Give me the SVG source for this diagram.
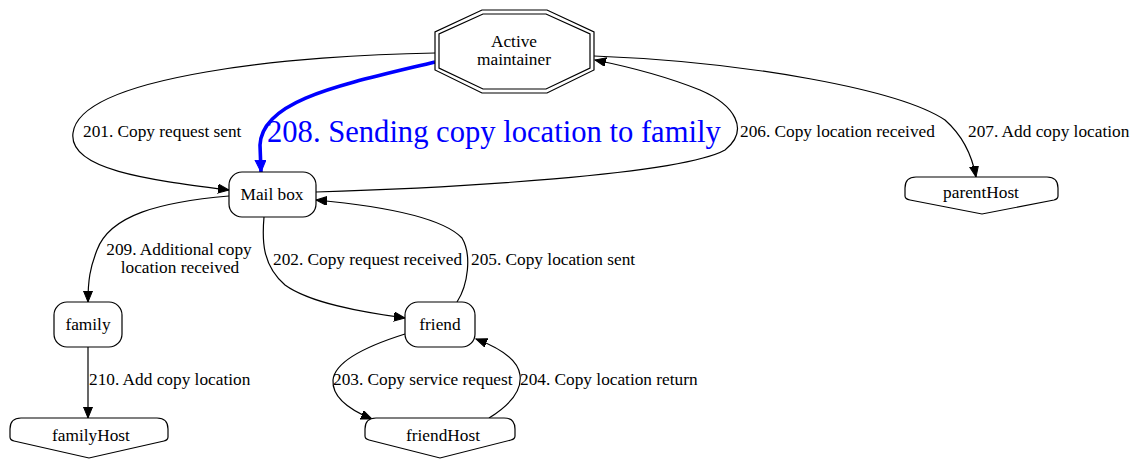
<svg xmlns="http://www.w3.org/2000/svg" width="1140" height="460" viewBox="0 0 1140 460">
<style>
.n{fill:#fff;stroke:#000;stroke-width:1.2}
.t{font-family:"Liberation Serif","Times New Roman",serif;font-size:17.3px;fill:#000}
.m{text-anchor:middle}
.e{fill:none;stroke:#000;stroke-width:1.2;marker-end:url(#ah)}
.b{fill:none;stroke:#00f;stroke-width:3.6;marker-end:url(#bh)}
</style>
<defs>
<marker id="ah" markerUnits="userSpaceOnUse" markerWidth="12" markerHeight="10" refX="11" refY="4.5" orient="auto"><path d="M0,0 L11,4.5 L0,9 Z" fill="#000" stroke="#000"/></marker>
<marker id="bh" markerUnits="userSpaceOnUse" markerWidth="14" markerHeight="12" refX="12" refY="5.5" orient="auto"><path d="M0,0 L12,5.5 L0,11 Z" fill="#00f" stroke="#00f"/></marker>
</defs>
<rect width="1140" height="460" fill="#fff"/>
<g id="connectors">
<path class="e" d="M435,53 C300,55 80,75 73,133 C68,170 150,180 229,190"/>
<text class="t" x="83" y="137">201. Copy request sent</text>
<path class="b" d="M435,62 C340,85 262,100 260,145 L261,172"/>
<text x="267" y="142" style="font-family:'Liberation Serif','Times New Roman',serif;font-size:30.6px;fill:#00f">208. Sending copy location to family</text>
<path class="e" d="M316,192 C450,188 680,175 725,150 C750,130 735,105 700,90 C670,78 630,67 595,60"/>
<text class="t" x="740" y="137">206. Copy location received</text>
<path class="e" d="M594,56 C750,62 900,90 945,120 C962,135 972,155 976,177"/>
<text class="t" x="968" y="137">207. Add copy location</text>
<path class="e" d="M229,196 C160,202 110,215 97,250 C90,268 88,280 88,302"/>
<text class="t m" x="179" y="255">209. Additional copy</text>
<text class="t m" x="180" y="273">location received</text>
<path class="e" d="M88,347 L88,418"/>
<text class="t" x="89" y="385">210. Add copy location</text>
<path class="e" d="M264,217 C262,240 262,265 285,285 C310,303 360,312 405,318"/>
<text class="t" x="273" y="265">202. Copy request received</text>
<path class="e" d="M457,302 C468,285 472,255 462,238 C440,215 370,205 316,200"/>
<text class="t" x="471" y="265">205. Copy location sent</text>
<path class="e" d="M405,334 C370,345 335,360 333,380 C332,395 345,408 372,419"/>
<text class="t" x="333" y="385">203. Copy service request</text>
<path class="e" d="M489,418 C510,405 522,390 520,375 C518,360 500,348 476,339"/>
<text class="t" x="520" y="385">204. Copy location return</text>
</g>
<g id="active-maintainer">
<polygon class="n" points="482,10 547,10 594,32 594,70 547,93 482,93 435,70 435,32"/>
<polygon class="n" points="483,14 546,14 590,34 590,68 546,89 483,89 439,68 439,34"/>
<text class="t m" x="514" y="47">Active</text>
<text class="t m" x="514" y="65">maintainer</text>
</g>
<g id="mailbox">
<rect class="n" x="229" y="172" width="87" height="45" rx="13"/>
<text class="t m" x="272" y="200">Mail box</text>
</g>
<g id="family">
<rect class="n" x="54" y="302" width="68" height="45" rx="13"/>
<text class="t m" x="88" y="330">family</text>
</g>
<g id="friend">
<rect class="n" x="405" y="302" width="70" height="45" rx="13"/>
<text class="t m" x="440" y="330">friend</text>
</g>
<g id="parentHost">
<path class="n" d="M905,188 Q905,177 916,177 L1047,177 Q1058,177 1058,188 L1058,196 Q1058,199 1054,200 L982,214 L910,200 Q905,199 905,196 Z"/>
<text class="t m" x="981" y="198">parentHost</text>
</g>
<g id="familyHost">
<path class="n" d="M10,429 Q10,418 21,418 L157,418 Q168,418 168,429 L168,437 Q168,440 164,441 L89,458 L14,441 Q10,440 10,437 Z"/>
<text class="t m" x="91" y="441">familyHost</text>
</g>
<g id="friendHost">
<path class="n" d="M365,429 Q365,418 376,418 L504,418 Q515,418 515,429 L515,436 Q515,439 511,440 L440,458 L369,440 Q365,439 365,436 Z"/>
<text class="t m" x="443" y="441">friendHost</text>
</g>
</svg>
